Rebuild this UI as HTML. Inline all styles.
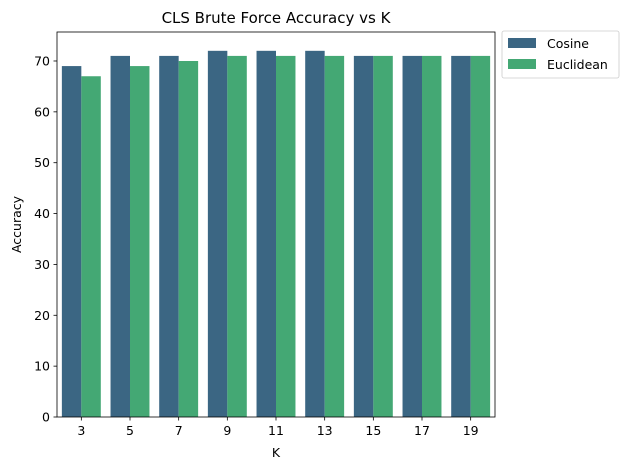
<!DOCTYPE html>
<html><head><meta charset="utf-8"><style>
body{margin:0;background:#fff;font-family:"Liberation Sans","DejaVu Sans",sans-serif;}
svg text{font-family:"DejaVu Sans","Liberation Sans",sans-serif;}
</style></head><body>
<svg id="chart" width="630" height="470"></svg>
<script>
const categories=["3","5","7","9","11","13","15","17","19"];
const cosineValues=[69,71,71,72,72,72,71,71,71];
const euclideanValues=[67,69,70,71,71,71,71,71,71];
const yTicks=[0,10,20,30,40,50,60,70];
const seriesNames=["Cosine","Euclidean"];
const colors=["#3b6683","#44a874"];
const NS="http://www.w3.org/2000/svg";
const svg=document.getElementById('chart');
const L=57,R=495,T=32,B=417,yMax=75.7;
const y=v=>B-(v/yMax)*(B-T);
const band=(R-L)/categories.length;
const x=i=>L+band*i;
function mk(tag,attrs,parent){const e=document.createElementNS(NS,tag);for(const k in attrs)e.setAttribute(k,attrs[k]);(parent||svg).appendChild(e);return e;}
const series=[cosineValues,euclideanValues];
series.forEach((vals,s)=>{vals.forEach((v,i)=>{
 const r=mk('rect',{x:x(i)+band*0.1+s*band*0.4,y:y(v),width:band*0.4,height:B-y(v),fill:colors[s]});
 
 
});});
const frame=mk('rect',{x:L,y:T,width:R-L,height:B-T,fill:'none',stroke:'#000','stroke-width':0.8});


yTicks.forEach(t=>{
 mk('line',{x1:L-3.5,x2:L,y1:y(t),y2:y(t),stroke:'#000','stroke-width':0.8});
 const tx=mk('text',{x:L-7,y:y(t)+4.5,'text-anchor':'end','font-size':12.5});tx.textContent=t;
 
 
});
categories.forEach((c,i)=>{
 const cx=x(i)+band/2;
 mk('line',{x1:cx,x2:cx,y1:B,y2:B+3.5,stroke:'#000','stroke-width':0.8});
 const tx=mk('text',{x:cx,y:B+18,'text-anchor':'middle','font-size':12.5});tx.textContent=c;
 
 
});
let t=mk('text',{x:(L+R)/2,y:23,'text-anchor':'middle','font-size':15});t.textContent='CLS Brute Force Accuracy vs K';


t=mk('text',{x:(L+R)/2,y:457,'text-anchor':'middle','font-size':12.5});t.textContent='K';


t=mk('text',{x:21,y:(T+B)/2,'text-anchor':'middle','font-size':12.5,transform:'rotate(-90 21 '+((T+B)/2)+')'});t.textContent='Accuracy';


const lg=mk('g',{});


mk('rect',{x:502,y:31,width:117,height:47,rx:2,fill:'#fff',stroke:'#ccc','stroke-width':0.8},lg);
seriesNames.forEach((n,s)=>{
 const sw=mk('rect',{x:508,y:38+s*21,width:28,height:10,fill:colors[s]},lg);
 
 
 const tx=mk('text',{x:547,y:48+s*21,'font-size':12.5},lg);tx.textContent=n;
 
 
});
</script>
</body></html>
